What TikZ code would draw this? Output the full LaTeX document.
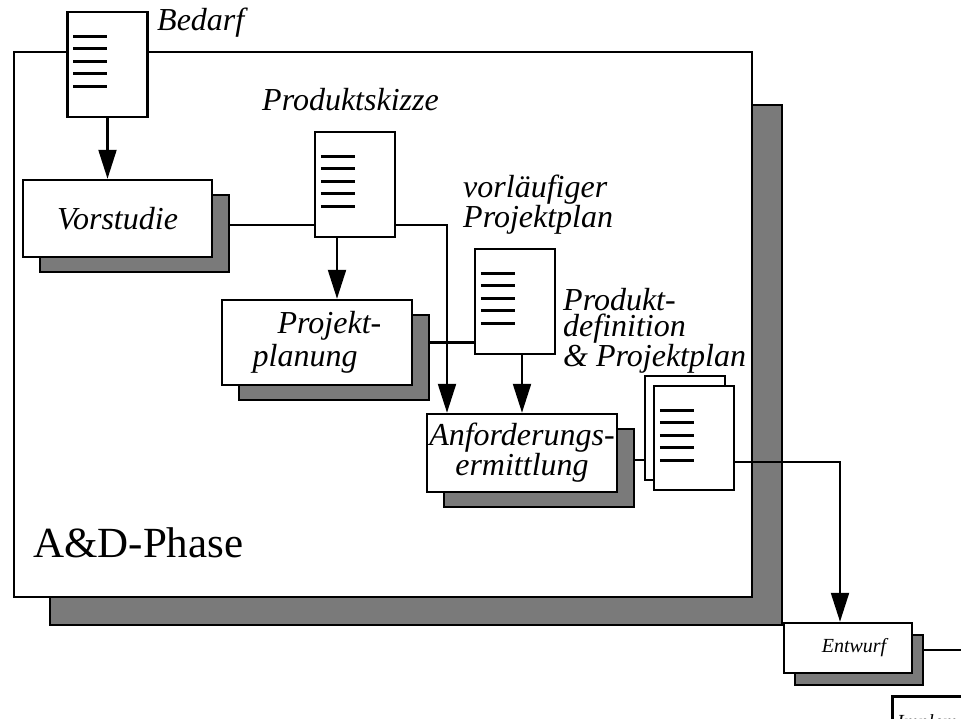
\documentclass[tikz,border=0pt]{standalone}
\usepackage{fontspec}
\setmainfont{Liberation Serif}
\usetikzlibrary{arrows.meta,shadows,calc}
\pgfdeclarelayer{back}
\pgfdeclarelayer{links}
\pgfsetlayers{back,links,main}
\tikzset{
  doc/.style={draw, line width=2.5pt, fill=white, minimum width=80pt, minimum height=105pt, inner sep=0pt},
  procbase/.style={draw, line width=2.5pt, fill=white, inner sep=0pt, align=center,
    font=\fontsize{32}{27}\selectfont\itshape},
  procbox/.style={procbase,
    drop shadow={shadow xshift=17pt, shadow yshift=-15pt, fill=black!52, draw=black, line width=1.5pt, opacity=1}},
  smallbox/.style={procbase, font=\fontsize{20}{24}\selectfont\itshape,
    drop shadow={shadow xshift=11pt, shadow yshift=-12pt, fill=black!52, draw=black, line width=1.5pt, opacity=1}},
  lbl/.style={inner sep=0pt, font=\fontsize{32}{26}\selectfont\itshape, align=left},
  link/.style={line width=2.2pt},
  flow/.style={link, -{Triangle[length=29pt,width=18pt]}},
}
\newcommand\doclines[1]{%
  \foreach \d in {25.5,38,50.5,63,75.5}
    \draw[line width=2.6pt] ($(#1.north west)+(7,\d)$) -- ++(34,0);}
\begin{document}
\begin{tikzpicture}[x=1pt,y=-1pt]
\useasboundingbox (0,0) rectangle (961,718);
% phase frame
\begin{pgfonlayer}{back}
  \node[draw, line width=1.5pt, fill=black!52, minimum width=732pt, minimum height=520pt, inner sep=0pt] (phaseshadow) at (416,365) {};
  \node[draw, line width=2.5pt, fill=white, minimum width=738pt, minimum height=545pt, inner sep=0pt] (phase) at (383,324.5) {};
\end{pgfonlayer}
\node[inner sep=0pt, anchor=base west, font=\fontsize{43}{50}\selectfont] (phaselbl) at (33,557) {A\&D-Phase};

% documents
\node[doc] (bedarf) at (107.5,64.5) {};
\doclines{bedarf}
\node[lbl, anchor=base west] (bedarflbl) at (157,30) {Bedarf};

\node[doc] (skizze) at (355,184.5) {};
\doclines{skizze}
\node[lbl, anchor=base west] (skizzelbl) at (262,110) {Produktskizze};

\node[doc] (vorl) at (515,301.5) {};
\doclines{vorl}
\node[lbl, anchor=north west] (vorllbl) at (463,175) {vorläufiger\\Projektplan};

\node[doc, minimum height=104pt] (stackback) at (685,428) {};
\node[doc, minimum height=104pt] (stackfront) at (694,438) {};
\doclines{stackfront}
\node[lbl, anchor=north west] (deflbl) at (563,288) {Produkt-\\definition\\\& Projektplan};

% process boxes
\node[procbox, minimum width=189pt, minimum height=77pt] (vorstudie) at (117.5,218.5) {Vorstudie};
\node[procbox, minimum width=190pt, minimum height=85pt, align=left] (planung) at (317,342.5) {\hspace*{25pt}Projekt-\\[3pt]planung};
\node[procbox, minimum width=190pt, minimum height=78pt] (anf) at (522,453) {Anforderungs-\\ermittlung};
\node[smallbox, minimum width=128pt, minimum height=50pt] (entwurf) at (848,648) {\hspace*{12pt}Entwurf};
\node[draw, line width=2.5pt, fill=white, anchor=north west, minimum width=120pt, minimum height=60pt, inner sep=0pt] (impl) at (891,695) {};
\node[inner sep=0pt, anchor=base west, font=\fontsize{20}{24}\selectfont\itshape] (impllbl) at (897,728) {Implementierung};

% connectors
\coordinate (vp) at (230,225);
\coordinate (pk) at (447,225);
\coordinate (pkd) at (337,0);
\coordinate (vd) at (522,0);
\coordinate (as) at (0,460);
\coordinate (se) at (840,462);
\coordinate (eout) at (961,650);
\begin{pgfonlayer}{links}
  \draw[flow] (bedarf.south) -- (bedarf.south |- vorstudie.north);
  \draw[link] (vp -| vorstudie.east) -- (vp -| skizze.west);
  \draw[flow] (pk -| skizze.east) -- (pk) -- (pk |- anf.north);
  \draw[flow] (pkd |- skizze.south) -- (pkd |- planung.north);
  \draw[link] (planung.east) -- (planung.east -| vorl.west);
  \draw[flow] (vd |- vorl.south) -- (vd |- anf.north);
  \draw[link] (as -| anf.east) -- (as -| stackback.west);
  \draw[flow] (se -| stackfront.east) -- (se) -- (se |- entwurf.north);
  \draw[link] (entwurf.east |- eout) -- (eout);
\end{pgfonlayer}
\end{tikzpicture}
\end{document}
